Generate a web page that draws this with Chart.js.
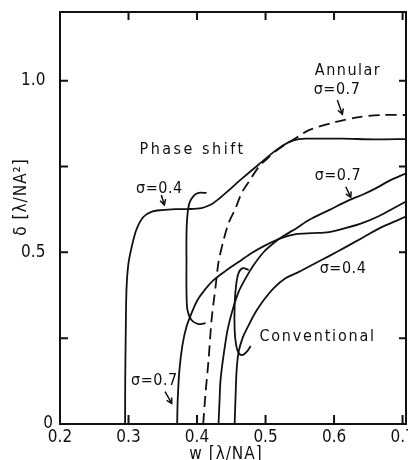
<!DOCTYPE html>
<html>
<head>
<meta charset="utf-8">
<script src="https://cdn.jsdelivr.net/npm/chart.js@4.4.0/dist/chart.umd.min.js"></script>
<style>
html,body{margin:0;padding:0;background:#fff;}
#wrap{width:408px;height:460px;}
</style>
</head>
<body>
<div id="wrap"><canvas id="c" width="408" height="460"></canvas></div>
<script>
// ---- axis ticks / titles ----
const xTicks = [0.2, 0.3, 0.4, 0.5, 0.6, 0.7];
const xTickLabels = ['0.2', '0.3', '0.4', '0.5', '0.6', '0.7'];
const yTicks = [0, 0.25, 0.5, 0.75, 1.0];
const yTickLabels = ['0', '', '0.5', '', '1.0'];
const xTitle = 'w [λ/NA]';
const yTitle = 'δ [λ/NA²]';

// ---- curves: [w, delta] ----
const phaseShift04 = [
  [0.2950,0],[0.2952,0.128],[0.2960,0.274],[0.2970,0.390],[0.2996,0.463],[0.3040,0.510],
  [0.3113,0.565],[0.3216,0.603],[0.3333,0.618],[0.3480,0.623],[0.3684,0.626],[0.3875,0.626],
  [0.4065,0.629],[0.4212,0.640],[0.4314,0.655],[0.4460,0.680],[0.4651,0.714],[0.4900,0.756],
  [0.5150,0.797],[0.5340,0.821],[0.5486,0.830],[0.5633,0.831],[0.6116,0.831],[0.6600,0.829],[0.7050,0.830]
];
const phaseShift07 = [
  [0.3710,0],[0.3718,0.070],[0.3743,0.157],[0.3787,0.230],[0.3846,0.283],[0.3920,0.323],
  [0.4007,0.361],[0.4110,0.390],[0.4241,0.419],[0.4417,0.446],[0.4607,0.472],[0.4798,0.498],
  [0.5003,0.521],[0.5237,0.542],[0.5442,0.553],[0.5677,0.556],[0.5926,0.559],[0.6175,0.571],
  [0.6410,0.585],[0.6658,0.606],[0.6848,0.626],[0.7050,0.648]
];
const phaseShiftLoop = [
  [0.4139,0.673],[0.4021,0.673],[0.3948,0.664],[0.3890,0.644],[0.3860,0.609],[0.3846,0.551],
  [0.3846,0.469],[0.3846,0.390],[0.3860,0.332],[0.3919,0.303],[0.4021,0.291],[0.4124,0.294]
];
const annular07 = [
  [0.4090,0],[0.4124,0.090],[0.4168,0.186],[0.4212,0.303],[0.4270,0.399],[0.4314,0.472],
  [0.4388,0.536],[0.4460,0.585],[0.4563,0.629],[0.4651,0.673],[0.4754,0.705],[0.4900,0.749],
  [0.5003,0.769],[0.5150,0.795],[0.5296,0.815],[0.5486,0.838],[0.5633,0.856],[0.6028,0.880],
  [0.6365,0.894],[0.6700,0.900],[0.7050,0.900]
];
const conventional07 = [
  [0.4314,0],[0.4329,0.070],[0.4343,0.128],[0.4388,0.201],[0.4446,0.274],[0.4519,0.332],
  [0.4607,0.385],[0.4710,0.425],[0.4827,0.463],[0.4974,0.501],[0.5120,0.527],[0.5266,0.548],
  [0.5457,0.571],[0.5633,0.594],[0.5926,0.623],[0.6219,0.652],[0.6438,0.670],[0.6614,0.687],
  [0.6804,0.708],[0.7050,0.730]
];
const conventional04 = [
  [0.4549,0],[0.4563,0.084],[0.4578,0.157],[0.4607,0.210],[0.4666,0.251],[0.4754,0.288],
  [0.4856,0.326],[0.4974,0.361],[0.5120,0.396],[0.5296,0.425],[0.5486,0.443],[0.5706,0.466],
  [0.5926,0.489],[0.6175,0.516],[0.6410,0.542],[0.6702,0.574],[0.7050,0.604]
];
const conventionalLoop = [
  [0.4754,0.449],[0.4666,0.454],[0.4607,0.440],[0.4571,0.405],[0.4549,0.347],[0.4549,0.274],
  [0.4571,0.230],[0.4607,0.207],[0.4666,0.201],[0.4724,0.210],[0.4783,0.227]
];

// ---- annotation texts ----
const labelTexts = ['Phase shift', 'σ=0.4', 'σ=0.7', 'Annular', 'σ=0.7', 'σ=0.7', 'σ=0.4', 'Conventional'];

const FONT = '"DejaVu Sans Condensed", "DejaVu Sans", sans-serif';

const labelPlacement = [
  {x:0.3934, y:0.798, sp:2.5},
  {x:0.3450, y:0.686, sp:0.5},
  {x:0.3377, y:0.125, sp:0.5},
  {x:0.6204, y:1.028, sp:1.5},
  {x:0.6043, y:0.973, sp:0.5},
  {x:0.6057, y:0.722, sp:0.5},
  {x:0.6131, y:0.452, sp:0.5},
  {x:0.5760, y:0.255, sp:1.8}
];
const arrowPlacement = [
  {x0:0.3479, y0:0.667, x1:0.3523, y1:0.638},
  {x0:0.3533, y0:0.094, x1:0.3631, y1:0.060},
  {x0:0.6048, y0:0.944, x1:0.6121, y1:0.902},
  {x0:0.6171, y0:0.691, x1:0.6244, y1:0.660}
];

function ds(pts, dashed) {
  return {
    data: pts.map(p => ({x: p[0], y: p[1]})),
    showLine: true,
    borderColor: '#111',
    borderWidth: 1.8,
    pointRadius: 0,
    tension: 0.3,
    fill: false,
    borderDash: dashed ? [11, 6] : [],
  };
}

const framePlugin = {
  id: 'frame',
  afterDraw(chart) {
    const {ctx, chartArea: a, scales: {x, y}} = chart;
    ctx.save();
    ctx.strokeStyle = '#111';
    ctx.lineWidth = 2;
    ctx.strokeRect(a.left, a.top, a.right - a.left, a.bottom - a.top);
    ctx.beginPath();
    xTicks.forEach(v => {
      const px = x.getPixelForValue(v);
      if (px <= a.left + 2 || px >= a.right - 2) return;
      ctx.moveTo(px, a.bottom); ctx.lineTo(px, a.bottom - 9);
      ctx.moveTo(px, a.top); ctx.lineTo(px, a.top + 8);
    });
    yTicks.forEach(v => {
      const py = y.getPixelForValue(v);
      if (py >= a.bottom - 2 || py <= a.top + 2) return;
      ctx.moveTo(a.left, py); ctx.lineTo(a.left + 8, py);
      ctx.moveTo(a.right, py); ctx.lineTo(a.right - 7, py);
    });
    ctx.stroke();
    // axis titles
    ctx.fillStyle = '#111';
    ctx.font = '17px ' + FONT;
    ctx.textAlign = 'center';
    ctx.textBaseline = 'top';
    ctx.letterSpacing = '1px';
    ctx.fillText(xTitle, 226, 446);
    ctx.translate(22, 197);
    ctx.rotate(-Math.PI / 2);
    ctx.textBaseline = 'middle';
    ctx.fillText(yTitle, 0, 0);
    ctx.restore();
  }
};

const annotPlugin = {
  id: 'annot',
  afterDatasetsDraw(chart) {
    const {ctx, scales: {x, y}} = chart;
    ctx.save();
    ctx.fillStyle = '#111';
    ctx.strokeStyle = '#111';
    ctx.font = '16px ' + FONT;
    ctx.textAlign = 'center';
    ctx.textBaseline = 'middle';
    labelTexts.forEach((t, i) => {
      const p = labelPlacement[i];
      ctx.letterSpacing = p.sp + 'px';
      ctx.fillText(t, x.getPixelForValue(p.x), y.getPixelForValue(p.y));
    });
    ctx.lineWidth = 1.5;
    arrowPlacement.forEach(a => {
      const x0 = x.getPixelForValue(a.x0), y0 = y.getPixelForValue(a.y0);
      const x1 = x.getPixelForValue(a.x1), y1 = y.getPixelForValue(a.y1);
      const ang = Math.atan2(y1 - y0, x1 - x0);
      ctx.beginPath();
      ctx.moveTo(x0, y0); ctx.lineTo(x1, y1);
      const h = 6;
      ctx.moveTo(x1 - h * Math.cos(ang - 0.5), y1 - h * Math.sin(ang - 0.5));
      ctx.lineTo(x1, y1);
      ctx.lineTo(x1 - h * Math.cos(ang + 0.5), y1 - h * Math.sin(ang + 0.5));
      ctx.stroke();
    });
    ctx.restore();
  }
};

new Chart(document.getElementById('c'), {
  type: 'scatter',
  data: {
    datasets: [
      ds(phaseShift04), ds(phaseShift07), ds(phaseShiftLoop),
      ds(annular07, true), ds(conventional07), ds(conventional04), ds(conventionalLoop)
    ]
  },
  options: {
    responsive: false,
    animation: false,
    devicePixelRatio: 1,
    layout: {padding: {top: 12, right: 2, left: 0, bottom: 0}},
    plugins: {legend: {display: false}, tooltip: {enabled: false}},
    scales: {
      x: {
        type: 'linear', min: 0.2, max: 0.705,
        afterBuildTicks: s => { s.ticks = xTicks.map(v => ({value: v})); },
        afterFit: s => { s.height = 36; s.paddingLeft = 0; s.paddingRight = 0; },
        grid: {display: false, drawTicks: false},
        border: {display: false},
        ticks: {
          autoSkip: false, maxRotation: 0, padding: 3, color: '#111',
          font: {family: FONT, size: 17},
          callback: (v, i) => xTickLabels[i]
        }
      },
      y: {
        type: 'linear', min: 0, max: 1.2,
        afterBuildTicks: s => { s.ticks = yTicks.map(v => ({value: v})); },
        afterFit: s => { s.width = 60; s.paddingTop = 0; s.paddingBottom = 0; },
        grid: {display: false, drawTicks: false},
        border: {display: false},
        ticks: {
          autoSkip: false, padding: 7, color: '#111',
          font: {family: FONT, size: 17},
          callback: (v, i) => { const l = yTickLabels[i]; return (l === '' || l === '0') ? l : l + '\u2002'; }
        }
      }
    }
  },
  plugins: [framePlugin, annotPlugin]
});
</script>
</body>
</html>
